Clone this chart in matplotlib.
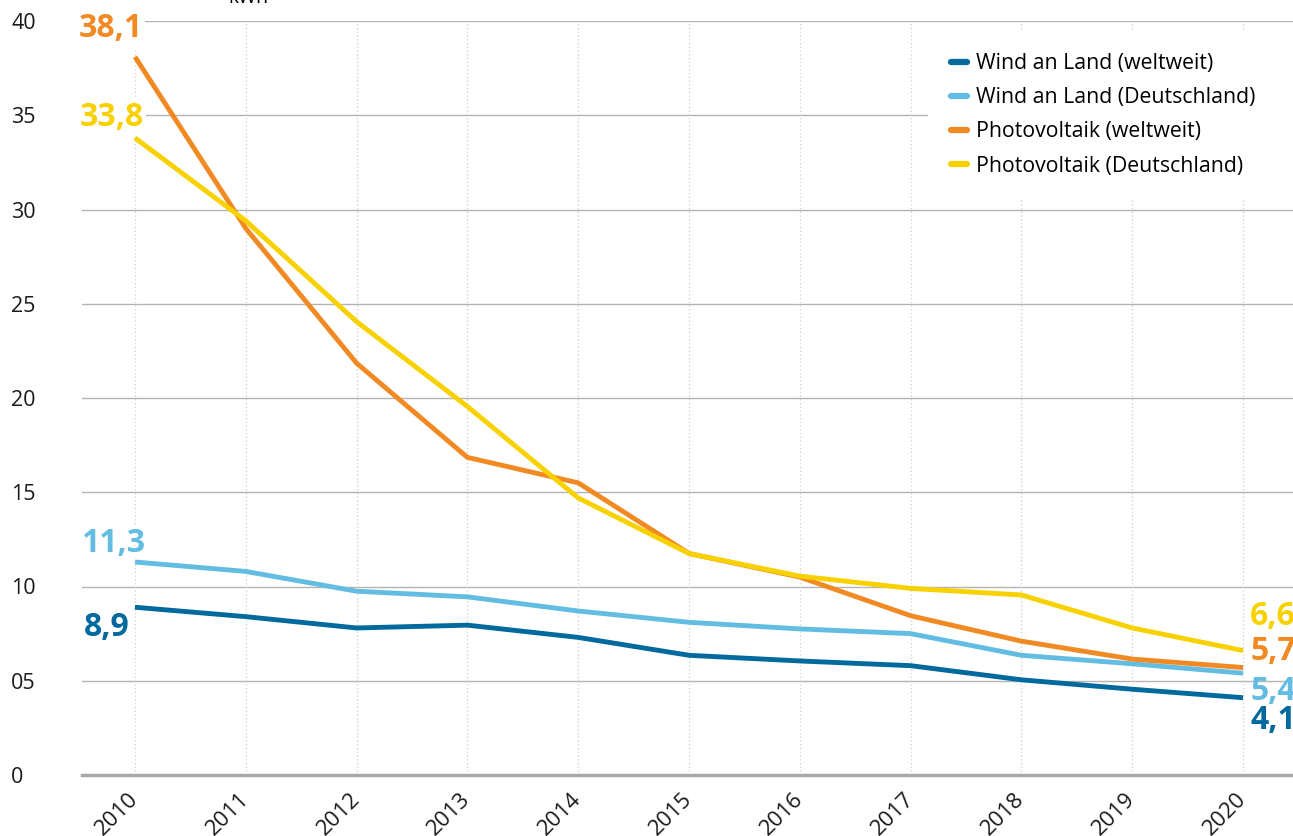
import matplotlib
matplotlib.use("Agg")
import matplotlib.pyplot as plt
from matplotlib.transforms import offset_copy

plt.rcParams['font.family'] = ['Open Sans', 'DejaVu Sans']

years = list(range(2010, 2021))
wind_world = [8.9, 8.4, 7.8, 7.95, 7.3, 6.35, 6.05, 5.8, 5.05, 4.55, 4.1]
wind_de = [11.3, 10.8, 9.75, 9.45, 8.7, 8.1, 7.75, 7.5, 6.35, 5.9, 5.4]
pv_world = [38.1, 29.0, 21.85, 16.85, 15.5, 11.75, 10.5, 8.45, 7.1, 6.15, 5.7]
pv_de = [33.8, 29.4, 24.05, 19.55, 14.7, 11.75, 10.55, 9.9, 9.55, 7.8, 6.6]

names = ['Wind an Land (weltweit)', 'Wind an Land (Deutschland)',
         'Photovoltaik (weltweit)', 'Photovoltaik (Deutschland)']
colors = ['#00699d', '#63bde3', '#f18a22', '#f8d100']
series = [wind_world, wind_de, pv_world, pv_de]

yticks = [0, 5, 10, 15, 20, 25, 30, 35, 40]
ytick_labels = ['0', '05', '10', '15', '20', '25', '30', '35', '40']

# label offsets in pixels (dx, dy) for first and last value
start_off = [(-5, -20), (10, 18), (8, 28), (9, 20)]
end_off = [(7, -23), (7, -18), (7, 16), (7, 34)]

W, H = 1293, 836
fig = plt.figure(figsize=(W / 100, H / 100), dpi=100)
ax = fig.add_axes([82 / W, (H - 775) / H, 1 - 82 / W, (775 - 21) / H])
ax.set_xlim(2009.522, 2020.451)
ax.set_ylim(0, 40)

for y in yticks[1:]:
    ax.axhline(y, color='#b3b3b3', lw=1.0, zorder=1)
for x in years:
    ax.axvline(x, color='#cfcfcf', lw=0.9, ls=(0, (1, 2)), zorder=1)
ax.axhline(0, color='#a8a8a8', lw=2.5, zorder=2, clip_on=False)

for vals, c, n in zip(series, colors, names):
    ax.plot(years, vals, color=c, lw=3.5, label=n, zorder=3,
            solid_capstyle='butt')

# value labels at both ends; white box hides grid behind the left ones
for vals, c, so, eo in zip(series, colors, start_off, end_off):
    t = offset_copy(ax.transData, fig=fig, x=so[0], y=so[1], units='dots')
    ax.text(years[0], vals[0], f'{vals[0]:.1f}'.replace('.', ','), transform=t,
            ha='right', va='center', fontsize=23, fontweight='bold', color=c,
            zorder=2.5, bbox=dict(fc='white', ec='none', pad=1.5))
    t = offset_copy(ax.transData, fig=fig, x=eo[0], y=eo[1], units='dots')
    ax.text(years[-1], vals[-1], f'{vals[-1]:.1f}'.replace('.', ','), transform=t,
            ha='left', va='center', fontsize=23, fontweight='bold', color=c,
            zorder=5, clip_on=False)

ax.set_yticks(yticks)
ax.set_yticklabels(ytick_labels, fontsize=15.5, ha='left', color='#1a1a1a')
ax.tick_params(axis='y', length=0, pad=51)
ax.set_xticks(years)
ax.set_xticklabels([str(y) for y in years], fontsize=16, rotation=45,
                   ha='right', va='center', rotation_mode='anchor', color='#1a1a1a')
ax.tick_params(axis='x', length=0, pad=15)
for lbl in ax.get_xticklabels():
    lbl.set_transform(lbl.get_transform() + offset_copy(fig.dpi_scale_trans, fig=fig, x=3, y=0, units='dots') - fig.dpi_scale_trans)
for s in ax.spines.values():
    s.set_visible(False)

leg = ax.legend(loc='upper left', bbox_to_anchor=(928 / W, 1 - 38 / H, 1 - 928 / W, 0.01),
                bbox_transform=fig.transFigure, mode='expand', fontsize=15.3,
                frameon=True, handlelength=0.75, handletextpad=0.4,
                labelspacing=0.62, borderpad=1.1, borderaxespad=0)
leg.get_frame().set_facecolor('white')
leg.get_frame().set_edgecolor('none')
leg.get_frame().set_alpha(1)
leg.get_frame().set_boxstyle('square', pad=0)
for h in leg.get_lines():
    h.set_linewidth(4.5)
    h.set_solid_capstyle('round')

fig.text(248 / W, 1 - 3 / H, 'kWh', fontsize=14, ha='center', va='baseline')

fig.savefig('out.png', dpi=100, facecolor='white')
